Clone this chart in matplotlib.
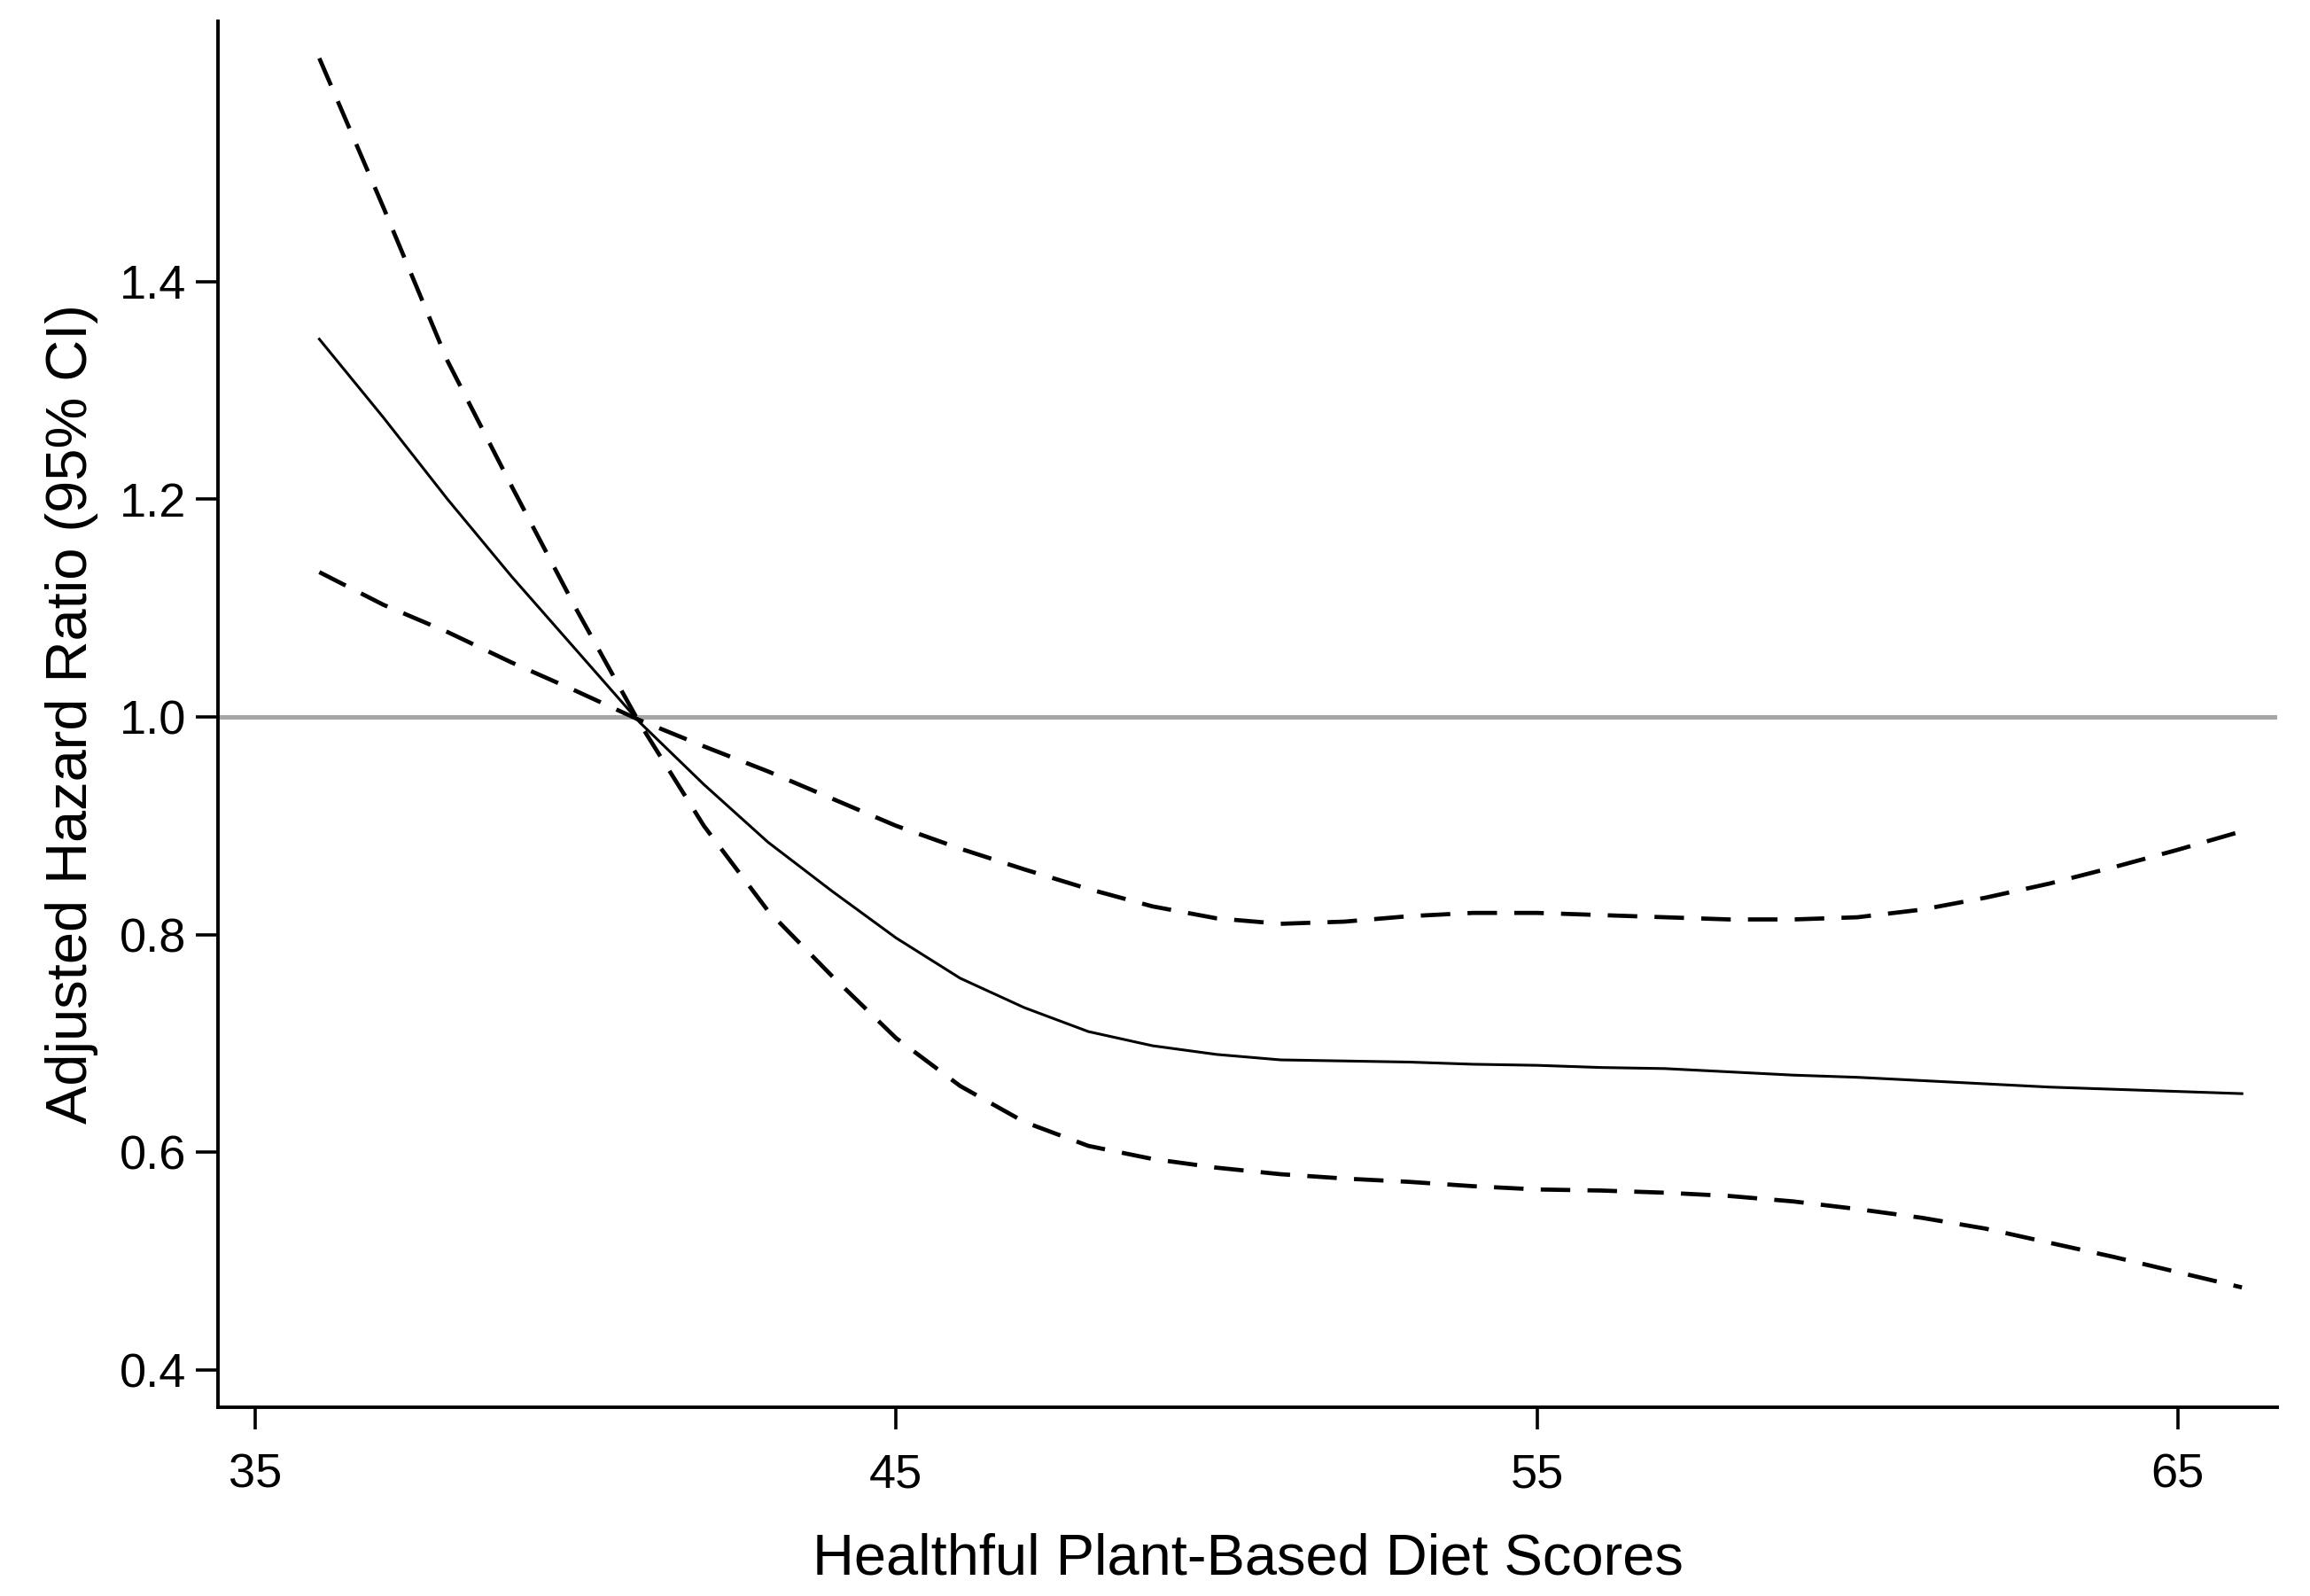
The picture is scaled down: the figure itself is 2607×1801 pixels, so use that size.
import matplotlib
matplotlib.use("Agg")
import matplotlib.pyplot as plt

plt.rcParams['font.family'] = ['Liberation Sans', 'DejaVu Sans']
plt.rcParams['lines.scale_dashes'] = False

# Healthful plant-based diet score
scores = [36, 37, 38, 39, 40, 41, 42, 43, 44, 45, 46, 47, 48, 49, 50, 51,
          52, 53, 54, 55, 56, 57, 58, 59, 60, 61, 62, 63, 64, 65, 66]
# Adjusted hazard ratio (point estimate)
hr = [1.347, 1.275, 1.200, 1.129, 1.062, 0.995, 0.938, 0.885, 0.840, 0.797,
      0.760, 0.733, 0.711, 0.698, 0.690, 0.685, 0.684, 0.683, 0.681, 0.680,
      0.678, 0.677, 0.674, 0.671, 0.669, 0.666, 0.663, 0.660, 0.658, 0.656, 0.654]
# Confidence bound 1 (steep at left, lower band at right)
ci_a = [1.605, 1.468, 1.327, 1.212, 1.100, 0.994, 0.900, 0.822, 0.762, 0.705,
        0.661, 0.628, 0.606, 0.594, 0.586, 0.580, 0.576, 0.573, 0.569, 0.566,
        0.565, 0.563, 0.560, 0.555, 0.548, 0.540, 0.530, 0.517, 0.504, 0.490, 0.476]
# Confidence bound 2 (shallow at left, upper band at right)
ci_b = [1.133, 1.103, 1.078, 1.050, 1.024, 0.997, 0.973, 0.950, 0.925, 0.900,
        0.879, 0.860, 0.842, 0.826, 0.815, 0.810, 0.812, 0.817, 0.820, 0.820,
        0.818, 0.816, 0.814, 0.814, 0.816, 0.823, 0.834, 0.847, 0.862, 0.878, 0.895]

x_ticks = [35, 45, 55, 65]
y_ticks = [0.4, 0.6, 0.8, 1.0, 1.2, 1.4]
y_tick_labels = ["0.4", "0.6", "0.8", "1.0", "1.2", "1.4"]

fig = plt.figure(figsize=(26.07, 18.01), dpi=100)
ax = fig.add_axes([0.0944, 0.1183, 0.9858 - 0.0944, 0.9867 - 0.1183])

ax.axhline(1.0, color='#a6a6a6', lw=3.6, zorder=1)
ax.plot(scores, hr, color='black', lw=2.2, zorder=3)
ax.plot(scores, ci_a, color='black', lw=3.4, dashes=(24, 14), zorder=2)
ax.plot(scores, ci_b, color='black', lw=3.4, dashes=(24, 14), zorder=2)

ax.set_xlim(34.42, 66.55)
ax.set_ylim(0.366, 1.639)
ax.set_xticks(x_ticks)
ax.set_yticks(y_ticks)
ax.set_yticklabels(y_tick_labels)

for s in ['top', 'right']:
    ax.spines[s].set_visible(False)
for s in ['left', 'bottom']:
    ax.spines[s].set_linewidth(2.8)

ax.tick_params(axis='both', direction='out', length=18, width=2.6,
               labelsize=39, colors='black')
ax.tick_params(axis='x', pad=19)
ax.tick_params(axis='y', pad=8)

ax.set_xlabel("Healthful Plant-Based Diet Scores", fontsize=46.8, labelpad=29)
ax.set_ylabel("Adjusted Hazard Ratio (95% CI)", fontsize=46.8, labelpad=17)

fig.savefig("out.png", dpi=100, facecolor='white')
